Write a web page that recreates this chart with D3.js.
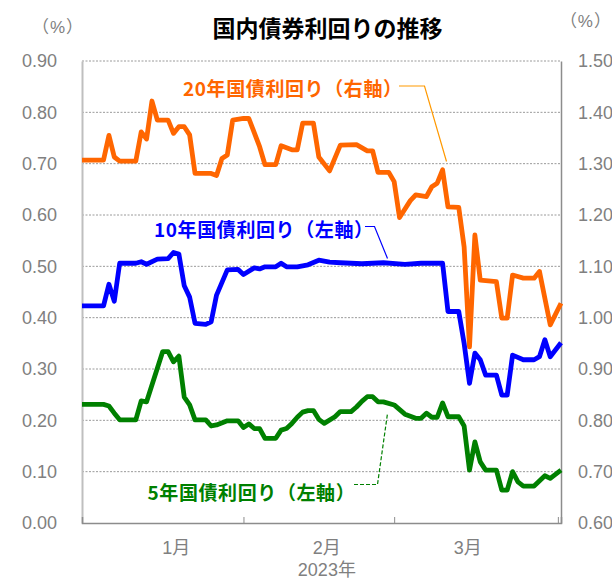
<!DOCTYPE html>
<html>
<head>
<meta charset="utf-8">
<script src="https://cdn.jsdelivr.net/npm/d3@7"></script>
<style>
  html, body { margin: 0; padding: 0; background: #fff; }
  svg { display: block; }
</style>
</head>
<body>
<svg id="chart" width="612" height="579"></svg>
<script>
// ---------------- DATA ----------------
const year = 2023;
const title = "国内債券利回りの推移";
const unitLabel = "（%）";
const leftTicks = [0, 0.1, 0.2, 0.3, 0.4, 0.5, 0.6, 0.7, 0.8, 0.9];
const rightTicks = [0.6, 0.7, 0.8, 0.9, 1.0, 1.1, 1.2, 1.3, 1.4, 1.5];
const monthLabels = ["1月", "2月", "3月"];
const monthLabelDates = ["01-18T12:00", "02-15T12:00", "03-13T16:00"];
const monthBoundaryDates = ["01-31T00:00", "02-28T00:00", "03-30T10:00"];
const yearLabel = "2023年";
const seriesNames = ["20年国債利回り（右軸）", "10年国債利回り（左軸）", "5年国債利回り（左軸）"];

// 20-year JGB yield (right axis, %)
const dates20 = ["01-01","01-05","01-06","01-07","01-08","01-11","01-12","01-13","01-14","01-15",
  "01-17","01-18","01-19","01-20","01-21","01-22","01-25","01-26","01-27","01-28","01-29","01-31",
  "02-01","02-03","02-04","02-06","02-07","02-09","02-10","02-11","02-13","02-14","02-16","02-18",
  "02-21","02-23","02-24","02-25","02-27","02-28","03-01","03-03","03-04","03-06","03-07","03-08",
  "03-09","03-10","03-12","03-13","03-14","03-15","03-16","03-19","03-20","03-21","03-22","03-24",
  "03-26","03-27","03-29","03-31"];
const values20 = [1.307,1.307,1.355,1.313,1.305,1.305,1.362,1.348,1.422,1.385,
  1.385,1.359,1.372,1.372,1.356,1.281,1.281,1.277,1.310,1.317,1.385,1.388,
  1.388,1.333,1.298,1.298,1.335,1.327,1.327,1.379,1.379,1.313,1.286,1.336,
  1.337,1.325,1.325,1.283,1.283,1.265,1.195,1.228,1.239,1.236,1.255,1.262,
  1.288,1.216,1.215,1.138,0.943,1.161,1.073,1.070,0.999,0.999,1.083,1.077,
  1.077,1.090,0.986,1.028];

// 10-year JGB yield (left axis, %)
const dates10 = ["01-01","01-05","01-06","01-07","01-08","01-11","01-12","01-13","01-15","01-17",
  "01-18","01-19","01-20","01-21","01-22","01-24","01-25","01-26","01-28","01-30","01-31","02-02",
  "02-03","02-04","02-06","02-07","02-08","02-10","02-12","02-14","02-16","02-18","02-22","02-26",
  "03-02","03-05","03-09","03-10","03-12","03-13","03-14","03-15","03-16","03-17","03-19","03-20",
  "03-21","03-22","03-24","03-26","03-27","03-28","03-29","03-31"];
const values10 = [0.423,0.423,0.465,0.432,0.506,0.506,0.509,0.504,0.514,0.515,
  0.527,0.524,0.462,0.440,0.389,0.387,0.392,0.444,0.493,0.494,0.484,0.497,
  0.495,0.499,0.499,0.506,0.499,0.499,0.503,0.512,0.508,0.507,0.505,0.507,
  0.504,0.506,0.506,0.412,0.412,0.350,0.272,0.331,0.318,0.288,0.288,0.249,
  0.249,0.327,0.318,0.318,0.324,0.357,0.324,0.351];

// 5-year JGB yield (left axis, %)
const dates5 = ["01-01","01-05","01-06","01-07","01-08","01-11","01-12","01-13","01-16","01-17",
  "01-18","01-19","01-20","01-21","01-22","01-24","01-25","01-26","01-28","01-30","01-31","02-01",
  "02-02","02-03","02-04","02-06","02-07","02-08","02-09","02-10","02-11","02-12","02-13","02-14",
  "02-15","02-17","02-18","02-20","02-21","02-22","02-23","02-24","02-25","02-26","02-28","03-02",
  "03-04","03-05","03-06","03-07","03-08","03-09","03-10","03-12","03-13","03-14","03-15","03-16",
  "03-17","03-19","03-20","03-21","03-22","03-23","03-24","03-26","03-28","03-29","03-31"];
const values5 = [0.231,0.231,0.228,0.214,0.201,0.201,0.238,0.236,0.334,0.334,
  0.314,0.325,0.245,0.230,0.201,0.201,0.189,0.191,0.199,0.199,0.186,0.193,
  0.184,0.184,0.165,0.165,0.181,0.184,0.194,0.206,0.216,0.219,0.219,0.202,
  0.194,0.207,0.217,0.217,0.226,0.237,0.246,0.246,0.236,0.236,0.230,0.212,
  0.204,0.204,0.214,0.206,0.206,0.234,0.207,0.207,0.189,0.103,0.158,0.119,
  0.103,0.103,0.064,0.064,0.100,0.080,0.072,0.072,0.092,0.087,0.103];

// ---------------- CHART ----------------
const parse = s => new Date(year + "-" + s + (s.includes("T") ? "Z" : "T00:00Z"));
const svg = d3.select("#chart");
const W = 612, H = 579;
const plot = { left: 82, right: 561, top: 61, bottom: 523 };

svg.append("rect").attr("width", W).attr("height", H).attr("fill", "#fff");

const x = d3.scaleUtc()
  .domain([parse("01-01"), parse("03-31")])
  .range([plot.left, plot.right]);
const yL = d3.scaleLinear().domain([0, 0.9]).range([plot.bottom, plot.top]);
const yR = d3.scaleLinear().domain([0.6, 1.5]).range([plot.bottom, plot.top]);

const numFont = "'Liberation Sans', Arial, 'Noto Sans CJK JP', sans-serif";
const cjkFont = "'Noto Sans CJK JP', 'Noto Sans', sans-serif";
const gray = "#808080";

// gridlines
svg.append("g").selectAll("line").data(leftTicks.filter(d => d > 0)).join("line")
  .attr("x1", plot.left).attr("x2", plot.right)
  .attr("y1", d => yL(d)).attr("y2", d => yL(d))
  .attr("stroke", "#9a9a9a").attr("stroke-width", 1)
  .attr("stroke-dasharray", "2,1.5");

// left axis
const gL = svg.append("g").attr("transform", `translate(${plot.left},0)`)
  .call(d3.axisLeft(yL).tickValues(leftTicks).tickSize(0).tickPadding(25)
    .tickFormat(d3.format(".2f")));
gL.select(".domain").attr("stroke", "#bfbfbf").attr("stroke-width", 2);
gL.selectAll("text").attr("font-family", numFont).attr("font-size", 18).attr("fill", gray);

// right axis
const gR = svg.append("g").attr("transform", `translate(${plot.right},0)`)
  .call(d3.axisRight(yR).tickValues(rightTicks).tickSize(0).tickPadding(17)
    .tickFormat(d3.format(".2f")));
gR.select(".domain").attr("stroke", "#8c8c8c").attr("stroke-width", 1.5);
gR.selectAll("text").attr("font-family", numFont).attr("font-size", 18).attr("fill", gray);

// bottom axis
const gB = svg.append("g").attr("transform", `translate(0,${plot.bottom})`)
  .call(d3.axisBottom(x).tickValues(monthBoundaryDates.map(parse)).tickSize(-6).tickFormat(""));
gB.select(".domain").attr("stroke", "#8c8c8c").attr("stroke-width", 1.5);
gB.selectAll(".tick line").attr("stroke", "#8c8c8c");

svg.append("g").selectAll("text").data(monthLabels).join("text")
  .attr("x", (d, i) => x(parse(monthLabelDates[i])))
  .attr("y", 554)
  .attr("text-anchor", "middle")
  .attr("font-family", numFont).attr("font-size", 18).attr("fill", gray)
  .text(d => d);
svg.append("text")
  .attr("x", x(parse(monthLabelDates[1])))
  .attr("y", 576)
  .attr("text-anchor", "middle")
  .attr("font-family", numFont).attr("font-size", 18).attr("fill", gray)
  .text(yearLabel);

// unit labels
svg.append("text").attr("x", 58).attr("y", 33).attr("text-anchor", "middle")
  .attr("font-family", numFont).attr("font-size", 17).attr("letter-spacing", 1)
  .attr("fill", gray).text(unitLabel);
svg.append("text").attr("x", 612).attr("y", 27).attr("text-anchor", "end")
  .attr("font-family", numFont).attr("font-size", 17).attr("letter-spacing", 1)
  .attr("fill", gray).text(unitLabel);

// title
svg.append("text").attr("x", 327.5).attr("y", 37).attr("text-anchor", "middle")
  .attr("font-family", cjkFont).attr("font-weight", "bold").attr("font-size", 23)
  .attr("fill", "#000").text(title);

// lines
const series = [
  { dates: dates20, values: values20, y: yR, color: "#FF6600" },
  { dates: dates10, values: values10, y: yL, color: "#0000FF" },
  { dates: dates5,  values: values5,  y: yL, color: "#008000" }
];
series.forEach(s => {
  const pts = s.dates.map((d, i) => [parse(d), s.values[i]]);
  const line = d3.line().x(p => x(p[0])).y(p => s.y(p[1]));
  svg.append("path").datum(pts)
    .attr("d", line)
    .attr("fill", "none")
    .attr("stroke", s.color)
    .attr("stroke-width", 4.8)
    .attr("stroke-linejoin", "round")
    .attr("stroke-linecap", "butt");
});

// series labels + leader lines
const labels = [
  { text: seriesNames[0], x: 183, y: 96, color: "#FF6600",
    leader: [[399, 86], [424.5, 86], [446.5, 161.5]], lcolor: "#FF9900", dash: null },
  { text: seriesNames[1], x: 154, y: 236.5, color: "#0000FF",
    leader: [[365, 226.5], [374.5, 226.5], [387.5, 258.5]], lcolor: "#0000FF", dash: null },
  { text: seriesNames[2], x: 147.5, y: 499.5, color: "#008000",
    leader: [[354, 484.5], [377.5, 484.5], [387.5, 413.5]], lcolor: "#008000", dash: "4,2" }
];
labels.forEach(l => {
  svg.append("text").attr("x", l.x).attr("y", l.y)
    .attr("font-family", cjkFont).attr("font-weight", "bold").attr("font-size", 19)
    .attr("letter-spacing", 0.6)
    .attr("fill", l.color).text(l.text);
  svg.append("path").attr("d", d3.line()(l.leader))
    .attr("fill", "none").attr("stroke", l.lcolor).attr("stroke-width", 1.2)
    .attr("stroke-dasharray", l.dash);
});
</script>
</body>
</html>
